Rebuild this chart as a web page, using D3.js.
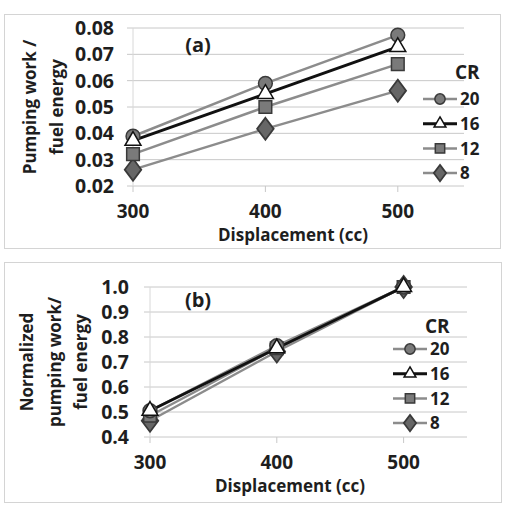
<!DOCTYPE html>
<html><head><meta charset="utf-8">
<script src="https://cdn.jsdelivr.net/npm/d3@7"></script>
<style>
body{margin:0;background:#fff;}
svg text{font-family:"Open Sans",Lato,sans-serif;font-weight:bold;fill:#1e1e1e;}
</style></head><body>
<svg id="c" width="509" height="505"></svg>
<script>
const displacements = [300, 400, 500];
const seriesNames = ["20", "16", "12", "8"];
const pumpA20 = [0.0389, 0.0590, 0.0773];
const pumpA16 = [0.0372, 0.0550, 0.0728];
const pumpA12 = [0.0321, 0.0500, 0.0663];
const pumpA8  = [0.0262, 0.0417, 0.0562];
const normB20 = [0.505, 0.765, 1.0];
const normB16 = [0.505, 0.755, 1.0];
const normB12 = [0.485, 0.755, 1.0];
const normB8  = [0.465, 0.742, 1.0];
const yTicksA = [0.02, 0.03, 0.04, 0.05, 0.06, 0.07, 0.08];
const yTicksB = [0.4, 0.5, 0.6, 0.7, 0.8, 0.9, 1.0];

const svg = d3.select("#c");
const styles = {
  "20": {line:"#8c8c8c", width:2.5, shape:"circle", fill:"#7a7a7a", stroke:"#3a3a3a"},
  "16": {line:"#111", width:3, shape:"triangle", fill:"#fff", stroke:"#111"},
  "12": {line:"#8c8c8c", width:2.5, shape:"square", fill:"#7a7a7a", stroke:"#3a3a3a"},
  "8":  {line:"#8c8c8c", width:2.5, shape:"diamond", fill:"#666", stroke:"#3a3a3a"}
};
function marker(g, name, x, y, s) {
  const st = styles[name];
  let sym;
  if (st.shape === "circle") sym = d3.symbol(d3.symbolCircle, 150*s);
  else if (st.shape === "triangle") sym = d3.symbol(d3.symbolTriangle, 110*s);
  else if (st.shape === "square") sym = d3.symbol(d3.symbolSquare, 160*s);
  else sym = d3.symbol(d3.symbolDiamond, 140*s);
  g.append("path").attr("d", sym()).attr("transform", `translate(${x},${y})` + (st.shape==="diamond"?" scale(1.3,1)":""))
    .attr("fill", st.fill).attr("stroke", st.stroke).attr("stroke-width", 1.5);
}

function panel(cfg) {
  const g = svg.append("g");
  g.append("rect").attr("x", cfg.box[0]).attr("y", cfg.box[1]).attr("width", cfg.box[2]).attr("height", cfg.box[3])
    .attr("fill", "#fff").attr("stroke", "#d4d4d4").attr("stroke-width", 1);
  const x = d3.scaleLinear().domain([300, 550]).range([cfg.x0, cfg.x1]);
  const y = d3.scaleLinear().domain(cfg.ydom).range([cfg.y0, cfg.y1]);
  g.selectAll(".gl").data(cfg.yticks).join("line")
    .attr("x1", cfg.x0 - 6).attr("x2", cfg.x1).attr("y1", d => y(d)).attr("y2", d => y(d))
    .attr("stroke", "#c8c8c8").attr("stroke-width", 1);
  g.selectAll(".xt").data(displacements).join("line")
    .attr("x1", d => x(d)).attr("x2", d => x(d)).attr("y1", cfg.y0).attr("y2", cfg.y0 + 6)
    .attr("stroke", "#c8c8c8");
  g.append("line").attr("x1", cfg.x0).attr("x2", cfg.x0).attr("y1", cfg.y0).attr("y2", cfg.y1).attr("stroke", "#d8d8d8");
  g.selectAll(".yl").data(cfg.yticks).join("text")
    .attr("x", cfg.ylabX).attr("y", d => y(d)).attr("dy", "0.36em").attr("text-anchor", "end")
    .attr("font-size", 19.5).text(d => d3.format(cfg.fmt)(d));
  g.selectAll(".xl").data(displacements).join("text")
    .attr("x", d => x(d)).attr("y", cfg.y0 + 25.5).attr("dy", "0.36em").attr("text-anchor", "middle")
    .attr("font-size", 19).text(d => d);
  g.append("text").attr("x", cfg.xtitleX).attr("y", cfg.y0 + 49).attr("dy", "0.36em").attr("text-anchor", "middle")
    .attr("font-size", 17).text("Displacement (cc)");
  g.append("text").attr("x", 198).attr("y", cfg.labelY).attr("dy", "0.36em").attr("text-anchor", "middle")
    .attr("font-size", 20).text(cfg.label);
  cfg.ytitle.forEach((t, i) => {
    g.append("text").attr("transform", `translate(${cfg.ytitleX[i]},${cfg.ytitleY}) rotate(-90)`)
      .attr("dy", "0.36em").attr("text-anchor", "middle").attr("font-size", 17).text(t);
  });
  const line = d3.line().x((d, i) => x(displacements[i])).y(d => y(d));
  const order = ["8", "12", "20", "16"];
  order.forEach(n => {
    const st = styles[n];
    g.append("path").attr("d", line(cfg.data[n])).attr("fill", "none").attr("stroke", st.line).attr("stroke-width", st.width);
  });
  order.forEach(n => {
    cfg.data[n].forEach((v, i) => marker(g, n, x(displacements[i]), y(v), 1));
  });
  g.append("text").attr("x", cfg.leg.x + 32).attr("y", cfg.leg.crY).attr("dy", "0.36em").attr("text-anchor", "start")
    .attr("font-size", 19).text("CR");
  seriesNames.forEach((n, i) => {
    const yy = cfg.leg.y + i * cfg.leg.dy;
    const st = styles[n];
    g.append("line").attr("x1", cfg.leg.x).attr("x2", cfg.leg.x + 34).attr("y1", yy).attr("y2", yy)
      .attr("stroke", st.line).attr("stroke-width", st.width);
    marker(g, n, cfg.leg.x + 17, yy, 0.55);
    g.append("text").attr("x", cfg.leg.x + 37).attr("y", yy).attr("dy", "0.36em").attr("font-size", 17).text(n);
  });
}

panel({
  box: [4.5, 14.5, 496, 234], x0: 133, x1: 464, y0: 186, y1: 28, ydom: [0.02, 0.08],
  yticks: yTicksA, fmt: ".2f", ylabX: 114, xtitleX: 293, label: "(a)", labelY: 45,
  ytitle: ["Pumping work /", "fuel energy"], ytitleX: [30, 57], ytitleY: 107,
  data: {"20": pumpA20, "16": pumpA16, "12": pumpA12, "8": pumpA8},
  leg: {x: 423, crY: 72, y: 99, dy: 24.7}
});
panel({
  box: [4.5, 262.5, 497, 240], x0: 150, x1: 467, y0: 437, y1: 287, ydom: [0.4, 1.0],
  yticks: yTicksB, fmt: ".1f", ylabX: 129, xtitleX: 290, label: "(b)", labelY: 300,
  ytitle: ["Normalized", "pumping work/", "fuel energy"], ytitleX: [27, 55, 81], ytitleY: 362,
  data: {"20": normB20, "16": normB16, "12": normB12, "8": normB8},
  leg: {x: 393, crY: 326, y: 349, dy: 24.7}
});
</script>
</body></html>
